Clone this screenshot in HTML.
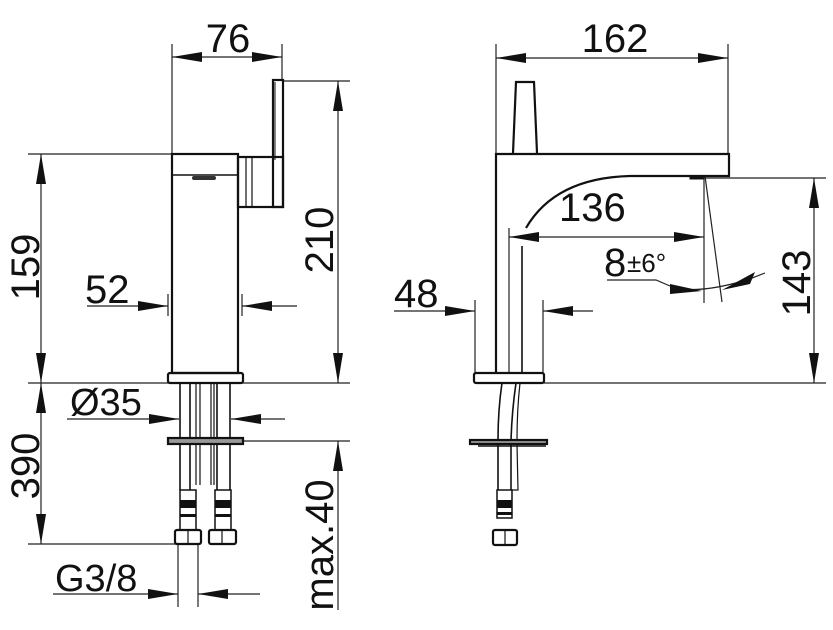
<!DOCTYPE html>
<html><head><meta charset="utf-8"><style>
html,body{margin:0;padding:0;background:#fff}
svg{display:block}
text{font-family:"Liberation Sans",sans-serif;fill:#111}
</style></head><body>
<svg width="833" height="630" viewBox="0 0 833 630" xmlns="http://www.w3.org/2000/svg">
<defs>
<marker id="a" viewBox="0 0 30 10" refX="30" refY="5" markerWidth="30" markerHeight="10" markerUnits="userSpaceOnUse" orient="auto-start-reverse"><path d="M0,0L30,5L0,10z" fill="#111"/></marker>
</defs>
<g stroke="#222" stroke-width="1.2" fill="none">
<line x1="172" y1="44" x2="172" y2="154"/>
<line x1="282" y1="44" x2="282" y2="80"/>
<line x1="172" y1="57" x2="282" y2="57" marker-start="url(#a)" marker-end="url(#a)"/>
<line x1="28" y1="154" x2="172" y2="154"/>
<line x1="41" y1="154" x2="41" y2="383" marker-start="url(#a)" marker-end="url(#a)"/>
<line x1="283" y1="81" x2="350" y2="81"/>
<line x1="338" y1="81" x2="338" y2="383" marker-start="url(#a)" marker-end="url(#a)"/>
<line x1="87" y1="306" x2="168" y2="306" marker-end="url(#a)"/>
<line x1="297" y1="306" x2="242" y2="306" marker-end="url(#a)"/>
<line x1="168" y1="294" x2="168" y2="316"/>
<line x1="242" y1="294" x2="242" y2="316"/>
<line x1="28" y1="383" x2="350" y2="383"/>
<line x1="67" y1="419" x2="179" y2="419" marker-end="url(#a)"/>
<line x1="285" y1="419" x2="231" y2="419" marker-end="url(#a)"/>
<line x1="243" y1="441" x2="350" y2="441"/>
<line x1="41" y1="383" x2="41" y2="544" marker-start="url(#a)" marker-end="url(#a)"/>
<line x1="28" y1="544" x2="200" y2="544"/>
<line x1="178" y1="544" x2="178" y2="607"/>
<line x1="198" y1="544" x2="198" y2="607"/>
<line x1="53" y1="594" x2="178" y2="594" marker-end="url(#a)"/>
<line x1="260" y1="594" x2="198" y2="594" marker-end="url(#a)"/>
<line x1="338" y1="610" x2="338" y2="441" marker-end="url(#a)"/>
</g>
<g stroke="#111" stroke-width="2.2" fill="none">
<rect x="172" y="154" width="66" height="219"/>
<line x1="172" y1="175" x2="238" y2="175" stroke-width="1.5"/>
<rect x="238" y="157" width="45" height="50"/>
<line x1="246" y1="157" x2="246" y2="207" stroke-width="1.2"/>
<line x1="252" y1="157" x2="252" y2="207" stroke-width="1.2"/>
<rect x="273" y="80" width="10" height="127"/>
<line x1="275" y1="82" x2="275" y2="160" stroke-width="1"/>
<rect x="168" y="373" width="75" height="10" rx="2"/>
<line x1="180" y1="383" x2="180" y2="490" stroke-width="1.6"/>
<line x1="190" y1="383" x2="190" y2="490" stroke-width="1.6"/>
<line x1="196" y1="383" x2="196" y2="485" stroke-width="1.2"/>
<line x1="200" y1="383" x2="200" y2="485" stroke-width="1.2"/>
<line x1="211" y1="383" x2="211" y2="485" stroke-width="1.2"/>
<line x1="214" y1="383" x2="214" y2="485" stroke-width="1.2"/>
<line x1="217" y1="383" x2="217" y2="490" stroke-width="1.6"/>
<line x1="230" y1="383" x2="230" y2="490" stroke-width="1.6"/>
<rect x="168" y="438" width="75" height="6" fill="#999"/>
<rect x="180" y="490" width="16" height="40" stroke-width="1.5"/>
<rect x="215" y="490" width="16" height="40" stroke-width="1.5"/>
<rect x="175" y="530" width="26" height="14" rx="2"/>
<rect x="209" y="530" width="27" height="14" rx="2"/>
<line x1="188" y1="530" x2="188" y2="544" stroke-width="1.2"/>
<line x1="222" y1="530" x2="222" y2="544" stroke-width="1.2"/>
</g>
<rect x="180" y="500" width="16" height="8" fill="#111"/>
<rect x="215" y="500" width="16" height="8" fill="#111"/>
<rect x="180" y="514" width="16" height="3" fill="#111"/>
<rect x="215" y="514" width="16" height="3" fill="#111"/>
<rect x="192" y="176" width="24" height="4" rx="2" fill="#333"/>

<g stroke="#222" stroke-width="1.2" fill="none">
<line x1="496" y1="44" x2="496" y2="154"/>
<line x1="728" y1="44" x2="728" y2="154"/>
<line x1="496" y1="58" x2="728" y2="58" marker-start="url(#a)" marker-end="url(#a)"/>
<line x1="700" y1="178" x2="826" y2="178"/>
<line x1="814" y1="178" x2="814" y2="383" marker-start="url(#a)" marker-end="url(#a)"/>
<line x1="544" y1="383" x2="826" y2="383"/>
<line x1="509" y1="228" x2="509" y2="373"/>
<line x1="509" y1="237" x2="704" y2="237" marker-start="url(#a)" marker-end="url(#a)"/>
<line x1="704" y1="176" x2="704" y2="303"/>
<line x1="705" y1="176" x2="722" y2="302"/>
<polyline points="607,280 656,280 670,286"/>
<path d="M670,288 Q705,294 752,278 L765,273"/>
<line x1="394" y1="311" x2="475" y2="311" marker-end="url(#a)"/>
<line x1="593" y1="311" x2="543" y2="311" marker-end="url(#a)"/>
<line x1="475" y1="300" x2="475" y2="373"/>
<line x1="543" y1="300" x2="543" y2="373"/>
</g>
<path d="M670,284 L702,291 L670,294z" fill="#111"/>
<path d="M755,272 L722,290 L750,284z" fill="#111"/>
<g stroke="#111" stroke-width="2.2" fill="none">
<path d="M513,153 L516,82 L534,82 L537,153"/>
<path d="M496,373 L496,154 L729,154 L729,176 L630,176 Q555,178 526,228"/>
<line x1="522" y1="246" x2="522" y2="373" stroke-width="1.6"/>
<rect x="474" y="373" width="70" height="10" rx="2"/>
<rect x="690" y="176" width="13" height="3" fill="#111" stroke-width="1"/>
<path d="M502,383 Q498,410 498,440" stroke-width="1.6"/>
<path d="M516,383 Q512,410 511,440" stroke-width="1.6"/>
<path d="M520,383 Q517,410 517,440" stroke-width="1.2"/>
<rect x="470" y="440" width="77" height="4" fill="#999"/>
<line x1="478" y1="446" x2="546" y2="446" stroke-width="1.5"/>
<line x1="498" y1="444" x2="498" y2="490" stroke-width="1.6"/>
<line x1="511" y1="444" x2="511" y2="490" stroke-width="1.6"/>
<path d="M517,444 L518,490 L511,490" stroke-width="1.2"/>
<rect x="497" y="490" width="15" height="28" stroke-width="1.5"/>
<rect x="493" y="530" width="24" height="15" rx="2"/>
<line x1="505" y1="530" x2="505" y2="545" stroke-width="1.2"/>
</g>
<rect x="497" y="500" width="15" height="8" fill="#111"/>
<rect x="497" y="512" width="15" height="3" fill="#111"/>

<g font-size="40">
<text x="228" y="52" text-anchor="middle">76</text>
<text x="615" y="52" text-anchor="middle">162</text>
<text x="85" y="303">52</text>
<text x="70" y="415" font-size="38">Ø35</text>
<text x="55" y="591" font-size="38">G3/8</text>
<text x="394" y="307">48</text>
<text x="559" y="221">136</text>
<text x="604" y="276">8</text>
<text x="627" y="272" font-size="26">±6°</text>
<text transform="translate(39,267) rotate(-90)" text-anchor="middle">159</text>
<text transform="translate(39,466) rotate(-90)" text-anchor="middle">390</text>
<text transform="translate(333,240) rotate(-90)" text-anchor="middle">210</text>
<text transform="translate(333,545) rotate(-90)" text-anchor="middle">max.40</text>
<text transform="translate(810,283) rotate(-90)" text-anchor="middle">143</text>
</g>
</svg>
</body></html>
